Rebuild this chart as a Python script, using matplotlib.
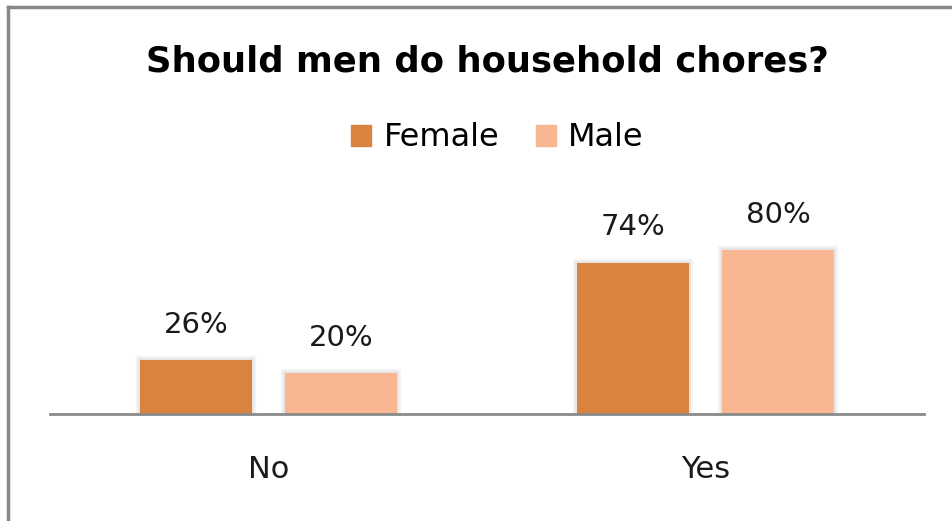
import matplotlib
matplotlib.use("Agg")
import matplotlib.pyplot as plt
import matplotlib.patheffects as pe
from matplotlib.lines import Line2D
from matplotlib.patches import Patch
import numpy as np

categories = ["No", "Yes"]
series_names = ["Female", "Male"]
female_pct = [26, 74]
male_pct = [20, 80]
colors = ["#D9833F", "#F8B692"]

fig = plt.figure(figsize=(9.53, 5.21), dpi=100)
ax = fig.add_axes([0.0525, 0.2063, 0.917, 0.3916])

x = np.arange(len(categories))
width = 0.258
offset = 0.166
# soft grey glow around each bar
shadow = [pe.withStroke(linewidth=6, foreground="#f4f4f4"),
          pe.withStroke(linewidth=3, foreground="#e6e6e6"),
          pe.Normal()]

for vals, off, col in [(female_pct, -offset, colors[0]), (male_pct, offset, colors[1])]:
    bars = ax.bar(x + off, vals, width, color=col, zorder=2)
    for b, v in zip(bars, vals):
        b.set_path_effects(shadow)
        ax.annotate(f"{v}%", (b.get_x() + b.get_width() / 2, v),
                    xytext=(0, 19.5), textcoords="offset points",
                    ha="center", va="baseline", fontsize=21, color="#1a1a1a")

ax.set_xlim(-0.5, 1.5)
ax.set_ylim(0, 100)
ax.set_xticks(x, categories, fontsize=22, color="#1a1a1a")
ax.tick_params(axis="x", length=0, pad=30)
ax.set_yticks([])
for side in ["top", "left", "right"]:
    ax.spines[side].set_visible(False)
ax.spines["bottom"].set_color("#8a8a8a")
ax.spines["bottom"].set_linewidth(2)
ax.spines["bottom"].set_zorder(3)

fig.text(487.5 / 953, (521 - 72) / 521, "Should men do household chores?",
         ha="center", va="baseline", fontsize=25.5, fontweight="bold", color="black")

handles = [Patch(color=c) for c in colors]
fig.legend(handles, series_names, loc="center", bbox_to_anchor=(497.5 / 953, (521 - 138) / 521),
           ncol=2, frameon=False, fontsize=23, handlelength=0.62, handleheight=0.62,
           handletextpad=0.38, columnspacing=1.15)

# outer frame: left and top edges
fig.add_artist(Line2D([8.5 / 953, 8.5 / 953], [0, (521 - 7) / 521], color="#888888", linewidth=2.5))
fig.add_artist(Line2D([8.5 / 953, 1], [(521 - 7) / 521, (521 - 7) / 521], color="#888888", linewidth=2.5))

fig.savefig("out.png", dpi=100, facecolor="white")
